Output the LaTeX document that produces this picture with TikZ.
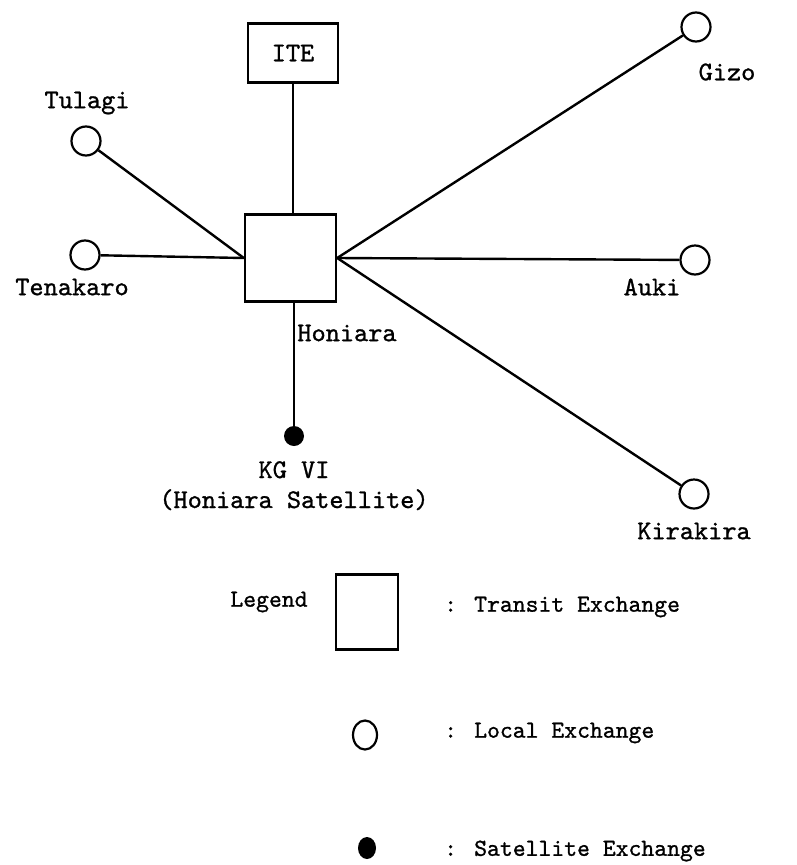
\documentclass[tikz,border=0pt]{standalone}
\usepackage{fontspec}
\usetikzlibrary{shapes.geometric}
\newfontfamily\tw{lmmono10-regular.otf}[BoldFont=lmmono10-regular.otf,BoldFeatures={FakeBold=1.0}]
\begin{document}
\begin{tikzpicture}[x=1pt,y=-1pt,
  every node/.style={font=\tw\bfseries\fontsize{27}{31}\selectfont},
  conn/.style={line width=2.4pt},
  box/.style={draw,line width=2.4pt,rectangle,inner sep=0pt},
  loc/.style={draw,line width=2.2pt,circle,inner sep=0pt,minimum size=29pt},
  sat/.style={fill,circle,inner sep=0pt,minimum size=20pt},
  lbl/.style={inner sep=0pt},
  leg/.style={inner sep=0pt,font=\tw\bfseries\fontsize{24.5}{28}\selectfont}]
\useasboundingbox (0,0) rectangle (797,865);
% main nodes
\node[box,minimum width=91pt,minimum height=87pt] (hon) at (290.5,258) {};
\node[box,minimum width=90pt,minimum height=59pt] (ite) at (293,53) {ITE};
\node[loc] (tul) at (86,141) {};
\node[loc] (ten) at (85,255) {};
\node[loc] (giz) at (696,27) {};
\node[loc] (auk) at (695,260) {};
\node[loc] (kir) at (694,494) {};
\node[sat] (kg) at (294,436) {};
% connectors
\draw[conn] (ite.south) -- (ite.south |- hon.north);
\draw[conn] (kg) -- (kg |- hon.south);
\draw[conn] (tul) -- (hon.west);
\draw[conn] (ten) -- (hon.west);
\draw[conn] (giz) -- (hon.east);
\draw[conn] (auk) -- (hon.east);
\draw[conn] (kir) -- (hon.east);
% labels
\node[lbl] (ltul) at (87,103) {Tulagi};
\node[lbl] (lten) at (72,287) {Tenakaro};
\node[lbl] (lhon) at (347,333) {Honiara};
\node[lbl] (lgiz) at (727,72) {Gizo};
\node[lbl] (lauk) at (652,287) {Auki};
\node[lbl] (lkir) at (694,531) {Kirakira};
\node[lbl,anchor=base] (lkg1) at (294,478) {KG VI};
\node[lbl,anchor=base] (lkg2) at (294,508) {(Honiara Satellite)};
% legend
\node[leg] (legt) at (269,602) {Legend};
\node[box,minimum width=62pt,minimum height=75pt] (legbox) at (367,612) {};
\node[leg,anchor=west] (legtr) at (444,607) {: Transit Exchange};
\node[draw,line width=2.2pt,ellipse,inner sep=0pt,minimum width=24pt,minimum height=29pt] (legloc) at (365,735) {};
\node[leg,anchor=west] (leglo) at (444,733) {: Local Exchange};
\node[fill,ellipse,inner sep=0pt,minimum width=18pt,minimum height=22pt] (legsat) at (367,848) {};
\node[leg,anchor=west] (legsa) at (444,851) {: Satellite Exchange};
\end{tikzpicture}
\end{document}
